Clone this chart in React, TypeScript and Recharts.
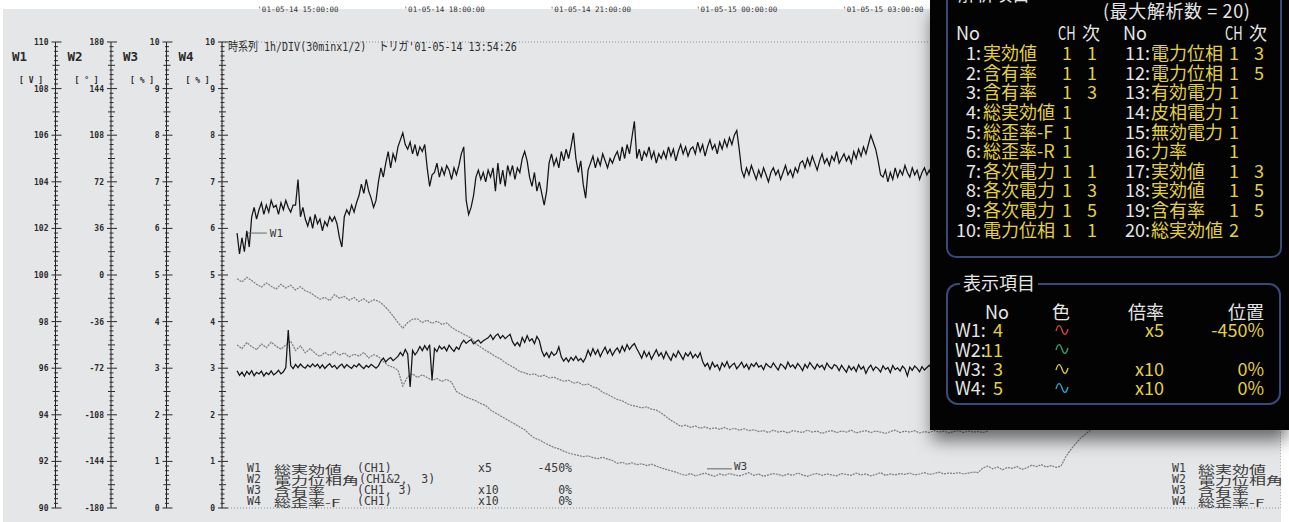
import React from "react";
import { CartesianGrid, ComposedChart, Line, ReferenceLine, XAxis, YAxis } from "recharts";

const MONO = '"DejaVu Sans Mono", "Noto Sans CJK JP", monospace';
const CJK = '"Noto Sans CJK JP", "DejaVu Sans", sans-serif';

// samples are stamped in hours since '01-05-14 00:00
const START_HOUR = 13.75;
const FINE_STEP = 0.05;
const COARSE_STEP = 0.1;

const timeTickHours = [15, 18, 21, 24, 27];
const timeTickLabels = [
  "'01-05-14 15:00:00",
  "'01-05-14 18:00:00",
  "'01-05-14 21:00:00",
  "'01-05-15 00:00:00",
  "'01-05-15 03:00:00",
];

const w1Majors = [90, 92, 94, 96, 98, 100, 102, 104, 106, 108, 110];
const w2Majors = [-180, -144, -108, -72, -36, 0, 36, 72, 108, 144, 180];
const w3Majors = [0, 1, 2, 3, 4, 5, 6, 7, 8, 9, 10];
const w4Majors = [0, 1, 2, 3, 4, 5, 6, 7, 8, 9, 10];
const divisionTicks = [0, 1, 2, 3, 4, 5, 6, 7, 8, 9, 10, 11, 12, 13, 14, 15, 16, 17, 18, 19, 20, 21, 22];

// W1 総実効値 (CH1) [V]
const w1Volts = [
  101.8, 100.9, 101.6, 101.0, 101.9, 101.2, 102.5, 102.9, 102.4, 102.8,
  103.1, 102.6, 103.0, 102.7, 103.2, 102.9, 103.0, 102.6, 103.1, 102.8,
  103.2, 102.9, 102.7, 103.0, 103.0, 104.1, 102.5, 102.9, 102.4, 102.1,
  102.5, 102.0, 102.6, 102.2, 102.4, 101.9, 102.3, 102.1, 102.5, 102.3,
  102.5, 102.2, 101.6, 101.2, 102.5, 102.8, 102.6, 103.0, 102.7, 103.1,
  103.4, 103.9, 103.5, 104.1, 103.6, 103.3, 102.9, 103.2, 104.0, 104.6,
  104.2, 104.8, 105.3, 104.6, 105.2, 104.9, 105.5, 105.8, 106.1, 105.6,
  105.4, 105.7, 105.2, 105.6, 105.1, 105.5, 105.3, 105.6, 104.6, 103.8,
  104.3, 104.4, 104.8, 104.2, 104.6, 104.3, 104.7, 104.5, 104.1, 104.6,
  104.3, 104.7, 105.2, 105.5, 103.2, 102.6, 102.9, 103.4, 104.2, 104.5,
  104.1, 104.4, 104.0, 104.5, 104.2, 104.6, 103.6, 104.8, 103.9, 104.5,
  103.8, 104.7, 104.3, 104.7, 104.1, 104.6, 104.4, 105.0, 105.3, 104.9,
  104.2, 103.8, 104.4, 103.6, 104.0, 103.5, 103.0, 103.6, 104.8, 105.2,
  104.7, 105.0, 104.6, 105.3, 104.9, 105.4, 105.0, 105.5, 106.1, 105.0,
  104.4, 104.9, 103.9, 103.3, 104.5, 104.8, 105.1, 104.6, 105.0, 104.7,
  105.2, 104.9, 104.6, 105.0, 104.8, 105.1, 105.3, 104.9, 105.5, 105.0,
  105.6, 105.2, 105.9, 106.6, 105.0, 105.4, 104.9, 105.3, 105.1, 105.5,
  105.0, 105.3, 104.8, 105.2, 105.0, 105.3, 105.0, 105.5, 105.1, 105.4,
  104.9, 105.3, 105.6, 105.2, 105.5, 105.1, 105.4, 105.5, 105.2, 105.7,
  105.3, 105.6, 105.1, 105.5, 105.8, 105.4, 105.6, 105.2, 105.7, 105.4,
  105.8, 105.5, 105.9, 105.6, 106.0, 106.2, 105.4, 104.5, 104.2, 104.6,
  104.3, 104.7, 104.4, 104.1, 104.5, 104.2, 104.6, 104.3, 104.0, 104.4,
  104.6, 104.3, 104.5, 104.1, 104.4, 104.7, 104.3, 104.5, 104.2, 104.6,
  104.4, 104.8, 104.9, 104.6, 105.0, 104.7, 105.1, 104.8, 104.5, 104.9,
  105.2, 104.8, 105.0, 104.7, 105.1, 104.9, 105.3, 104.8, 105.0, 105.2,
  104.9, 105.1, 104.8, 105.3, 105.0, 105.4, 105.1, 105.5, 105.2, 105.6,
  106.0, 105.7, 105.4, 104.9, 104.3, 104.2, 104.5, 104.0, 104.4, 104.1,
  104.6, 104.2, 104.5, 104.3, 104.7, 104.4, 104.2, 104.6, 104.3, 104.5,
  104.1, 104.4, 104.6, 104.3, 104.5, 104.2, 104.4,
];

// W2 電力位相角 (CH1&2, 3) [deg]
const w2Degrees = [
  -74.0, -77.5, -75.0, -78.2, -74.5, -76.8, -73.9, -77.8, -75.2, -76.5,
  -74.3, -78.0, -75.5, -76.9, -74.1, -77.2, -75.8, -73.6, -76.4, -74.8,
  -71.5, -42.5, -70.0, -72.3, -69.1, -71.6, -68.8, -70.9, -72.0, -69.5,
  -71.2, -68.7, -70.8, -68.9, -71.9, -69.4, -72.2, -70.1, -68.5, -71.4,
  -69.8, -72.5, -70.3, -68.8, -71.7, -69.2, -70.9, -72.1, -69.6, -71.0,
  -68.6, -70.7, -72.3, -69.9, -71.3, -69.0, -70.5, -72.0, -70.2, -66.5,
  -64.2, -67.1, -65.0, -63.8, -66.2, -64.6, -62.9, -59.8, -62.4, -57.6,
  -61.0, -86.5, -58.3, -61.7, -59.1, -55.2, -58.4, -54.6, -57.9, -53.8,
  -81.1, -56.7, -59.2, -54.9, -57.3, -55.5, -58.6, -54.2, -56.9, -59.0,
  -55.7, -57.5, -53.0, -50.4, -52.8, -51.1, -49.9, -53.2, -51.5, -50.2,
  -52.6, -50.8, -49.6, -48.5, -46.2, -49.8, -47.0, -45.6, -48.9, -46.7,
  -49.2, -47.4, -45.9, -51.5, -54.6, -52.0, -55.0, -48.3, -52.1, -46.8,
  -51.0, -49.2, -53.0, -47.5, -50.6, -58.5, -62.7, -60.1, -63.8, -59.4,
  -62.0, -60.6, -55.6, -63.2, -66.5, -64.0, -67.1, -63.6, -65.9, -62.8,
  -66.2, -64.5, -67.3, -63.9, -58.2, -62.4, -56.9, -61.3, -57.8, -63.0,
  -59.1, -55.8, -60.7, -57.4, -62.1, -58.6, -56.3, -60.0, -55.0, -58.9,
  -53.7, -57.6, -54.8, -52.9, -57.0, -60.5, -64.2, -58.9, -63.1, -59.7,
  -65.0, -61.4, -57.8, -62.6, -60.1, -64.5, -59.2, -62.9, -66.0, -60.8,
  -63.5, -58.6, -61.9, -65.3, -60.3, -62.7, -59.5, -64.0, -61.2, -63.8,
  -60.0, -66.8, -70.5, -68.2, -72.8, -67.5, -71.0, -69.3, -73.5, -68.0,
  -70.9, -66.9, -71.8, -69.6, -68.1, -72.4, -70.0, -67.4, -71.5, -69.0,
  -72.9, -68.6, -70.6, -67.7, -71.2, -69.9, -73.1, -68.4, -70.3, -71.6,
  -67.9, -70.8, -73.4, -68.7, -70.2, -72.6, -67.3, -71.1, -69.4, -72.2,
  -68.3, -70.7, -73.8, -69.1, -71.9, -67.6, -70.4, -72.7, -68.9, -71.3,
  -69.7, -73.0, -68.0, -70.9, -72.4, -69.2, -70.5, -73.9, -69.8, -72.6,
  -75.1, -70.2, -73.3, -71.0, -74.6, -69.4, -72.8, -70.7, -76.0, -71.9,
  -69.6, -73.7, -70.9, -72.3, -74.9, -70.1, -72.9, -71.4, -75.4, -69.9,
  -73.1, -71.7, -74.2, -70.4, -72.5, -78.0, -71.2, -73.6, -70.3, -72.1,
  -74.7, -70.8, -73.4, -71.5, -69.7, -72.8, -74.0,
];

// W3 含有率 (CH1, 3) [%]
const w3Percent = [
  3.50, 3.42, 3.55, 3.46, 3.40, 3.52, 3.44, 3.56, 3.47, 3.41,
  3.50, 3.58, 3.38, 3.48, 3.33, 3.42, 3.32, 3.25, 3.34, 3.27,
  3.36, 3.28, 3.33, 3.24, 3.30, 3.26, 3.34, 3.22, 3.29, 3.25,
  3.14, 3.06, 3.02, 2.96, 2.62, 2.82, 2.88, 2.80, 2.86, 2.80,
  2.74, 2.78, 2.72, 2.76, 2.70, 2.50, 2.44, 2.38, 2.34, 2.30,
  2.24, 2.20, 2.10, 2.04, 1.98, 1.92, 1.86, 1.80, 1.74, 1.68,
  1.58, 1.50, 1.46, 1.40, 1.35, 1.30, 1.27, 1.22, 1.18, 1.15,
  1.13, 1.10, 1.12, 1.08, 1.06, 1.09, 1.05, 1.02, 0.96, 0.98,
  0.94, 0.97, 0.93, 0.95, 0.91, 0.94, 0.90, 0.86, 0.83, 0.80,
  0.77, 0.73, 0.70, 0.74, 0.69, 0.72, 0.75, 0.71, 0.68, 0.73,
  0.70, 0.74, 0.71, 0.69, 0.72, 0.76, 0.70, 0.73, 0.68, 0.71,
  0.74, 0.72, 0.69, 0.73, 0.70, 0.75, 0.71, 0.68, 0.72, 0.74,
  0.70, 0.73, 0.71, 0.69, 0.74, 0.72, 0.70, 0.75, 0.71, 0.73,
  0.69, 0.72, 0.76, 0.70, 0.73, 0.71, 0.74, 0.72, 0.75, 0.71,
  0.73, 0.76, 0.72, 0.74, 0.77, 0.73, 0.75, 0.74, 0.76, 0.73,
  0.75, 0.77, 0.76, 0.86, 0.90, 0.84, 0.88, 0.82, 0.87, 0.85,
  0.89, 0.83, 0.86, 0.92, 0.89, 0.93, 0.88, 0.91, 0.87, 0.90,
  1.10, 1.25, 1.38, 1.50, 1.58, 1.67, 1.76, 1.85, 1.95, 2.02,
  2.10,
];

// W4 総歪率-F (CH1) [%]
const w4Percent = [
  4.92, 4.85, 4.95, 4.88, 4.80, 4.74, 4.83, 4.76, 4.70, 4.80,
  4.72, 4.78, 4.68, 4.75, 4.66, 4.62, 4.55, 4.48, 4.52, 4.45,
  4.58, 4.50, 4.54, 4.46, 4.52, 4.43, 4.49, 4.41, 4.47, 4.44,
  4.36, 4.25, 4.12, 3.98, 3.86, 3.98, 4.05, 4.06, 3.98, 4.03,
  3.96, 4.01, 3.94, 3.97, 3.88, 3.81, 3.76, 3.70, 3.65, 3.52,
  3.45, 3.38, 3.32, 3.25, 3.20, 3.12, 3.06, 3.00, 2.93, 2.90,
  2.86, 2.88, 2.82, 2.85, 2.79, 2.81, 2.76, 2.72, 2.74, 2.68,
  2.70, 2.64, 2.66, 2.60, 2.57, 2.48, 2.44, 2.38, 2.33, 2.30,
  2.24, 2.20, 2.18, 2.15, 2.17, 2.12, 2.10, 2.04, 1.96, 1.88,
  1.82, 1.75, 1.78, 1.73, 1.76, 1.71, 1.74, 1.70, 1.72, 1.69,
  1.73, 1.68, 1.71, 1.67, 1.70, 1.66, 1.68, 1.64, 1.66, 1.62,
  1.67, 1.63, 1.65, 1.61, 1.66, 1.64, 1.62, 1.67, 1.63, 1.65,
  1.60, 1.64, 1.66, 1.62, 1.65, 1.63, 1.67, 1.61, 1.64, 1.66,
  1.62, 1.65, 1.63, 1.60, 1.64, 1.67, 1.62, 1.65, 1.63, 1.66,
  1.61, 1.64, 1.62, 1.66, 1.63, 1.65, 1.61, 1.64, 1.66, 1.62,
  1.65, 1.63, 1.64, 1.62, 1.65,
];

// 解析項目 (No, name, CH, 次)
const analysisLeft = [
  ["1", "実効値", "1", "1"],
  ["2", "含有率", "1", "1"],
  ["3", "含有率", "1", "3"],
  ["4", "総実効値", "1", ""],
  ["5", "総歪率-F", "1", ""],
  ["6", "総歪率-R", "1", ""],
  ["7", "各次電力", "1", "1"],
  ["8", "各次電力", "1", "3"],
  ["9", "各次電力", "1", "5"],
  ["10", "電力位相", "1", "1"],
];
const analysisRight = [
  ["11", "電力位相", "1", "3"],
  ["12", "電力位相", "1", "5"],
  ["13", "有効電力", "1", ""],
  ["14", "皮相電力", "1", ""],
  ["15", "無効電力", "1", ""],
  ["16", "力率", "1", ""],
  ["17", "実効値", "1", "3"],
  ["18", "実効値", "1", "5"],
  ["19", "含有率", "1", "5"],
  ["20", "総実効値", "2", ""],
];

// 表示項目 (trace, No, colour, 倍率, 位置)
const displayItems = [
  ["W1", "4", "#d8452f", "x5", "-450%"],
  ["W2", "11", "#2fa56c", "", ""],
  ["W3", "3", "#d9c53c", "x10", "0%"],
  ["W4", "5", "#2aa8cc", "x10", "0%"],
];

const legendRows = [
  ["W1", "総実効値", "(CH1)", "x5", "-450%"],
  ["W2", "電力位相角", "(CH1&2,  3)", "", ""],
  ["W3", "含有率", "(CH1, 3)", "x10", "0%"],
  ["W4", "総歪率-F", "(CH1)", "x10", "0%"],
];

const toPoints = (values: number[], step: number) =>
  values.map((v, i) => ({ t: START_HOUR + i * step, v }));

const w1Data = toPoints(w1Volts, FINE_STEP);
const w2Data = toPoints(w2Degrees, FINE_STEP);
const w3Data = toPoints(w3Percent, COARSE_STEP);
const w4Data = toPoints(w4Percent, COARSE_STEP);

// every major division gets 10 minor ticks
const withMinors = (majors: number[]) => {
  const out: number[] = [];
  for (let i = 0; i < majors.length - 1; i++) {
    for (let k = 0; k < 10; k++) out.push(majors[i] + ((majors[i + 1] - majors[i]) * k) / 10);
  }
  out.push(majors[majors.length - 1]);
  return out;
};

const scaleTick = (majors: number[]) => (props: any) => {
  const { x, y, payload } = props;
  const v = payload.value;
  const step = (majors[1] - majors[0]) / 10;
  const pos = Math.round((v - majors[0]) / step);
  const major = pos % 10 === 0;
  const half = pos % 10 === 5;
  const l = major ? 4 : half ? 3 : 1.5;
  const r = major ? 6 : half ? 4 : 2.5;
  return (
    <g>
      <line x1={x - l} x2={x + r} y1={y} y2={y} stroke="#2a2a2a" strokeWidth={1} />
      {major && (
        <text x={x - 7} y={y + 3} textAnchor="end" fontSize={8} fontWeight="bold" fontFamily={MONO} fill="#2a2a2a">
          {Math.round(v)}
        </text>
      )}
    </g>
  );
};

const axisHeader = (name: string, unit: string) => (props: any) => {
  const { x } = props.viewBox;
  return (
    <g fontFamily={MONO} fill="#2a2a2a">
      <text x={x + 12} y={61} fontSize={12.5} fontWeight="bold">{name}</text>
      <text x={x + 19} y={83} fontSize={8} fontWeight="bold" xmlSpace="preserve">{unit}</text>
    </g>
  );
};

const timeTick = (props: any) => {
  const { x, y, payload } = props;
  const i = timeTickHours.indexOf(payload.value);
  return (
    <text x={x} y={y - 30} textAnchor="middle" fontSize={7.5} fontFamily={MONO} fill="#333">
      {timeTickLabels[i]}
    </text>
  );
};

type TxtProps = {
  x: number;
  y: number;
  children: React.ReactNode;
  color?: string;
  size?: number;
  align?: "left" | "right";
  font?: string;
  style?: React.CSSProperties;
};

const Txt = ({ x, y, children, color = "#e6e6e6", size = 18, align = "left", font = CJK, style }: TxtProps) => {
  const box: React.CSSProperties = {
    position: "absolute",
    top: y - size * 0.6,
    height: size * 1.2,
    lineHeight: `${size * 1.2}px`,
    fontSize: size,
    fontFamily: font,
    color,
    whiteSpace: "pre",
    ...style,
  };
  if (align === "right") {
    box.left = x - 200;
    box.width = 200;
    box.textAlign = "right";
  } else {
    box.left = x;
  }
  return <div style={box}>{children}</div>;
};

const Wave = ({ x, y, color }: { x: number; y: number; color: string }) => (
  <svg style={{ position: "absolute", left: x, top: y }} width={14} height={12}>
    <path d="M1,7 C3,0 5,0 7,6 C9,12 11,12 13,5" stroke={color} strokeWidth={1.4} fill="none" />
  </svg>
);

const narrow: React.CSSProperties = { transform: "scaleX(0.72)", transformOrigin: "left center" };

const Panel = () => {
  const YEL = "#e2cf45";
  const rowY = (i: number) => 53 + i * 19.6;
  return (
    <>
      <div
        style={{
          position: "absolute",
          left: 930,
          top: 0,
          width: 359,
          height: 430,
          background: "#030303",
          boxShadow: "0 12px 16px -2px rgba(0,0,0,0.55)",
        }}
      />
      <div
        style={{
          position: "absolute",
          left: 946,
          top: -12,
          width: 336,
          height: 270,
          boxSizing: "border-box",
          border: "2px solid #3a4a78",
          borderRadius: 10,
        }}
      />
      <Txt x={958} y={-6}>解析項目</Txt>
      <Txt x={1103} y={11} style={{ letterSpacing: 0.6 }}>(最大解析数 = 20)</Txt>
      <Txt x={956} y={33}>No</Txt>
      <Txt x={1058} y={33} style={narrow}>CH</Txt>
      <Txt x={1082} y={33}>次</Txt>
      <Txt x={1123} y={33}>No</Txt>
      <Txt x={1225} y={33} style={narrow}>CH</Txt>
      <Txt x={1249} y={33}>次</Txt>
      {analysisLeft.map(([no, name, ch, ord], i) => (
        <React.Fragment key={`l${no}`}>
          <Txt x={981} y={rowY(i)} align="right">{`${no}:`}</Txt>
          <Txt x={983} y={rowY(i)} color={YEL}>{name}</Txt>
          <Txt x={1062} y={rowY(i)} color={YEL}>{ch}</Txt>
          <Txt x={1087} y={rowY(i)} color={YEL}>{ord}</Txt>
        </React.Fragment>
      ))}
      {analysisRight.map(([no, name, ch, ord], i) => (
        <React.Fragment key={`r${no}`}>
          <Txt x={1150} y={rowY(i)} align="right">{`${no}:`}</Txt>
          <Txt x={1151} y={rowY(i)} color={YEL}>{name}</Txt>
          <Txt x={1229} y={rowY(i)} color={YEL}>{ch}</Txt>
          <Txt x={1254} y={rowY(i)} color={YEL}>{ord}</Txt>
        </React.Fragment>
      ))}

      <div
        style={{
          position: "absolute",
          left: 946,
          top: 283,
          width: 335,
          height: 122,
          boxSizing: "border-box",
          border: "2px solid #3a4a78",
          borderRadius: 12,
        }}
      />
      <Txt x={960} y={283} style={{ background: "#030303", padding: "0 3px" }}>表示項目</Txt>
      <Txt x={985} y={312}>No</Txt>
      <Txt x={1052} y={312}>色</Txt>
      <Txt x={1128} y={312}>倍率</Txt>
      <Txt x={1228} y={312}>位置</Txt>
      {displayItems.map(([w, no, color, mult, pos], i) => {
        const y = 330 + i * 19.4;
        return (
          <React.Fragment key={w}>
            <Txt x={955} y={y}>{`${w}:`}</Txt>
            <Txt x={1003} y={y} align="right" color={YEL}>{no}</Txt>
            <Wave x={1055} y={y - 6} color={color} />
            <Txt x={1164} y={y} align="right" color={YEL}>{mult}</Txt>
            <Txt x={1264} y={y} align="right" color={YEL}>{pos}</Txt>
          </React.Fragment>
        );
      })}
    </>
  );
};

const LEGEND_INK = "#3a3a3a";
const squash: React.CSSProperties = { transform: "scaleY(0.64)", transformOrigin: "left center" };

const Legends = () => (
  <>
    {legendRows.map(([w, name, ch, mult, pos], i) => {
      const y = 469 + i * 11;
      return (
        <React.Fragment key={w}>
          <Txt x={247} y={y} size={11.5} font={MONO} color={LEGEND_INK}>{w}</Txt>
          <Txt x={274} y={y} size={17} color={LEGEND_INK} style={squash}>{name}</Txt>
          <Txt x={i === 1 ? 359 : 357} y={y} size={11.5} font={MONO} color={LEGEND_INK}>{ch}</Txt>
          <Txt x={478} y={y} size={11.5} font={MONO} color={LEGEND_INK}>{mult}</Txt>
          <Txt x={572} y={y} size={11.5} font={MONO} color={LEGEND_INK} align="right">{pos}</Txt>
          <Txt x={1172} y={y} size={11.5} font={MONO} color={LEGEND_INK}>{w}</Txt>
          <Txt x={1198} y={y} size={17} color={LEGEND_INK} style={squash}>{name}</Txt>
        </React.Fragment>
      );
    })}
  </>
);

// left-hand scales: ids sort innermost first (W4 next to the plot, W1 outermost)
const scaleAxes = [
  { id: "y1_w4", name: "W4", unit: "[ % ]", majors: w4Majors },
  { id: "y2_w3", name: "W3", unit: "[ % ]", majors: w3Majors },
  { id: "y3_w2", name: "W2", unit: "[ ° ]", majors: w2Majors },
  { id: "y4_w1", name: "W1", unit: "[ V ]", majors: w1Majors },
];

export default function App() {
  return (
    <div
      style={{
        position: "absolute",
        left: 0,
        top: 0,
        width: 1289,
        height: 522,
        overflow: "hidden",
        background: "#ffffff",
      }}
    >
      <div style={{ position: "absolute", left: 3, top: 9, width: 1278, height: 513, background: "#e5e6e8" }} />
      <div style={{ position: "absolute", left: 0, top: 0, width: 1281, height: 522, overflow: "hidden" }}>
        <ComposedChart width={1281} height={522} margin={{ top: 12, right: 0, bottom: 14, left: 0 }}>
          <XAxis
            xAxisId="time"
            orientation="top"
            type="number"
            dataKey="t"
            domain={[13.441, 35.164]}
            allowDataOverflow
            ticks={timeTickHours}
            interval={0}
            height={30}
            axisLine={false}
            tickLine={false}
            tickSize={0}
            tickMargin={0}
            tick={timeTick}
          />
          <XAxis xAxisId="div" type="number" domain={[-0.43, 22.34]} allowDataOverflow ticks={divisionTicks} hide />
          {scaleAxes.map((a) => (
            <YAxis
              key={a.id}
              yAxisId={a.id}
              type="number"
              domain={[a.majors[0], a.majors[a.majors.length - 1]]}
              allowDataOverflow
              ticks={withMinors(a.majors)}
              interval={0}
              width={55.5}
              tickSize={0}
              tickMargin={0}
              tickLine={false}
              axisLine={{ stroke: "#222" }}
              tick={scaleTick(a.majors)}
              label={{ content: axisHeader(a.name, a.unit) }}
            />
          ))}
          <YAxis yAxisId="y9_grid" type="number" domain={[0, 10]} ticks={w4Majors} hide />
          <CartesianGrid xAxisId="div" yAxisId="y9_grid" stroke="#8e8e8e" strokeDasharray="1 2" />

          <Line xAxisId="time" yAxisId="y1_w4" data={w4Data} dataKey="v" stroke="#7c7c7c" strokeWidth={1.2} strokeDasharray="2 1" dot={false} activeDot={false} isAnimationActive={false} />
          <Line xAxisId="time" yAxisId="y2_w3" data={w3Data} dataKey="v" stroke="#7c7c7c" strokeWidth={1.2} strokeDasharray="2 1" dot={false} activeDot={false} isAnimationActive={false} />
          <Line xAxisId="time" yAxisId="y3_w2" data={w2Data} dataKey="v" stroke="#141414" strokeWidth={1.25} dot={false} activeDot={false} isAnimationActive={false} />
          <Line xAxisId="time" yAxisId="y4_w1" data={w1Data} dataKey="v" stroke="#141414" strokeWidth={1.25} dot={false} activeDot={false} isAnimationActive={false} />

          <ReferenceLine
            xAxisId="time"
            yAxisId="y4_w1"
            segment={[{ x: 13.97, y: 101.8 }, { x: 14.36, y: 101.8 }]}
            stroke="#666"
            label={{ value: "W1", position: "right", offset: 3, fill: "#3a3a3a", fontSize: 11, fontFamily: MONO }}
          />
          <ReferenceLine
            xAxisId="time"
            yAxisId="y2_w3"
            segment={[{ x: 23.39, y: 0.84 }, { x: 23.9, y: 0.84 }]}
            stroke="#666"
            label={{ value: "W3", position: "right", offset: 2, dy: -3, fill: "#3a3a3a", fontSize: 11, fontFamily: MONO }}
          />
        </ComposedChart>
      </div>
      <Txt
        x={228}
        y={46}
        size={12.5}
        font={MONO}
        color="#2e2e2e"
        style={{ transform: "scaleX(0.8)", transformOrigin: "left center" }}
      >
        {"時系列 1h/DIV(30minx1/2)  トリガ'01-05-14 13:54:26"}
      </Txt>
      <Legends />
      <Panel />
    </div>
  );
}
